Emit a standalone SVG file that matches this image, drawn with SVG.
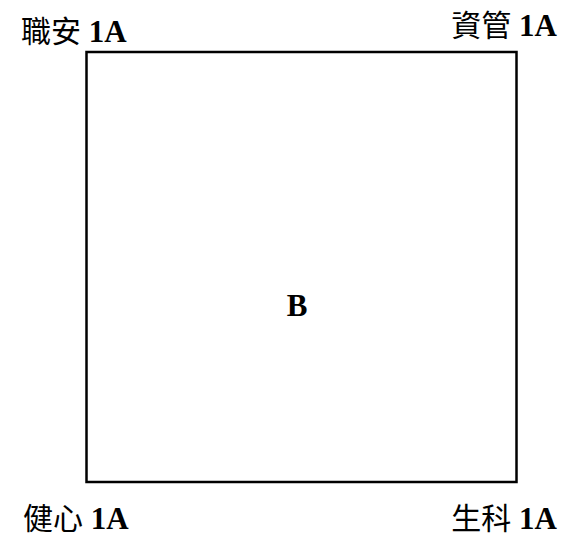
<svg xmlns="http://www.w3.org/2000/svg" width="568" height="538" viewBox="0 0 568 538">
<style>
.cjk{font-family:"Noto Sans CJK TC","Noto Sans CJK SC",sans-serif;font-size:30px;fill:#000}
.lat{font-family:"Liberation Serif","Times New Roman",serif;font-weight:bold;font-size:31px;fill:#000}
.box{fill:#fff;stroke:#000;stroke-width:2.5}
</style>
<rect width="568" height="538" fill="#fff"/>
<g id="square">
<rect class="box" x="86.5" y="52" width="430" height="430"/>
<text class="lat" x="297" y="316" text-anchor="middle">B</text>
</g>
<g id="label-tl"><text x="21" y="42"><tspan class="cjk">職安</tspan><tspan class="lat"> 1A</tspan></text></g>
<g id="label-tr"><text x="557" y="36" text-anchor="end"><tspan class="cjk">資管</tspan><tspan class="lat"> 1A</tspan></text></g>
<g id="label-bl"><text x="23" y="529"><tspan class="cjk">健心</tspan><tspan class="lat"> 1A</tspan></text></g>
<g id="label-br"><text x="557" y="529" text-anchor="end"><tspan class="cjk">生科</tspan><tspan class="lat"> 1A</tspan></text></g>
<g id="connectors"/>
</svg>
